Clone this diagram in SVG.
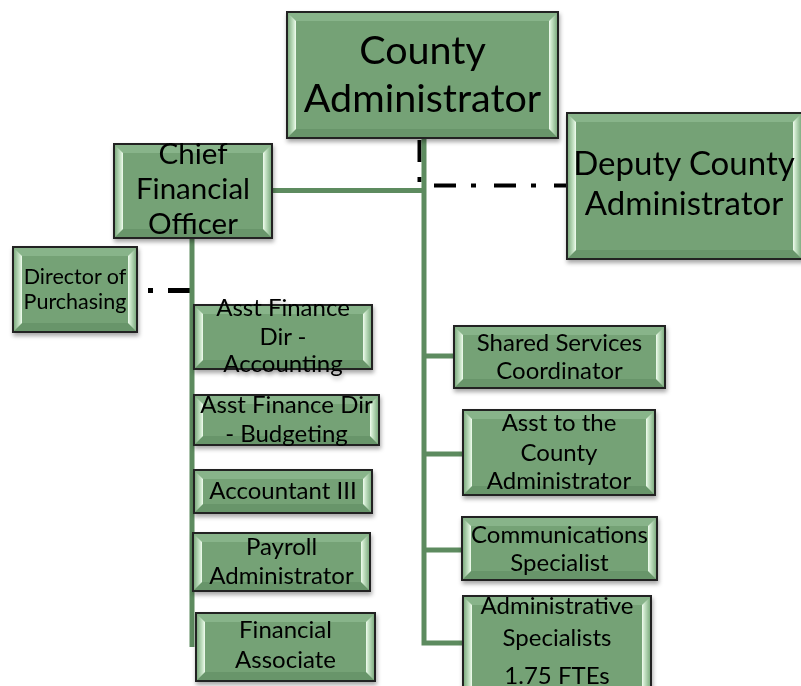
<svg xmlns="http://www.w3.org/2000/svg" width="801" height="686" viewBox="0 0 801 686">
<defs>
<filter id="sh" x="-10%" y="-10%" width="120%" height="130%">
<feDropShadow dx="1" dy="3" stdDeviation="2" flood-color="#000" flood-opacity="0.35"/>
</filter>
<linearGradient id="bl" x1="0" y1="0" x2="1" y2="0">
<stop offset="0" stop-color="#80ae82"/>
<stop offset="0.75" stop-color="#cfe9ce"/>
<stop offset="1" stop-color="#f2fcf1"/>
</linearGradient>
<linearGradient id="br" x1="1" y1="0" x2="0" y2="0">
<stop offset="0" stop-color="#80ae82"/>
<stop offset="0.75" stop-color="#cfe9ce"/>
<stop offset="1" stop-color="#f2fcf1"/>
</linearGradient>
</defs>
<style>
.box{fill:#74a276;stroke:#222;stroke-width:2}
.bt{fill:#88b48a}
.bb{fill:#67956b}
.bl{fill:url(#bl)}
.br{fill:url(#br)}
.t{font-family:Lato,"Liberation Sans",sans-serif;fill:#000;text-anchor:middle}
.s{font-size:24px}
.g{fill:none;stroke:#5d8b5f;stroke-width:5}
.d{fill:none;stroke:#000;stroke-width:5;stroke-dasharray:22 15 5 18}
</style>
<g id="connectors">
<path class="d" d="M419.5,140 V185.5 H567" style="stroke-width:4"/>
<path class="d" d="M190,290.5 H137"/>
<path class="g" d="M424,138 V643 H463 M424,190.5 H272 M424,356 H454 M424,454 H463 M424,550 H462"/>
<path class="g" d="M192,238 V647"/>
</g>
<g id="county-administrator" filter="url(#sh)">
<rect class="box" x="287" y="12" width="271" height="126"/>
<polygon class="bt" points="288,13 557,13 549,21 296,21"/>
<polygon class="bb" points="288,137 557,137 549,129 296,129"/>
<polygon class="bl" points="288,13 296,21 296,129 288,137"/>
<polygon class="br" points="557,13 549,21 549,129 557,137"/>
<text class="t" x="422.5" y="64" font-size="39.5">County</text>
<text class="t" x="422.5" y="112" font-size="39.5">Administrator</text>
</g>
<g id="deputy-county-administrator" filter="url(#sh)">
<rect class="box" x="567" y="113" width="236" height="146"/>
<polygon class="bt" points="568,114 802,114 794,122 576,122"/>
<polygon class="bb" points="568,258 802,258 794,250 576,250"/>
<polygon class="bl" points="568,114 576,122 576,250 568,258"/>
<polygon class="br" points="801,114 793,122 793,250 801,258"/>
<text class="t" x="684" y="175" font-size="33">Deputy County</text>
<text class="t" x="684" y="215" font-size="33">Administrator</text>
</g>
<g id="chief-financial-officer" filter="url(#sh)">
<rect class="box" x="114" y="144" width="158" height="94"/>
<polygon class="bt" points="115,145 271,145 263,153 123,153"/>
<polygon class="bb" points="115,237 271,237 263,229 123,229"/>
<polygon class="bl" points="115,145 123,153 123,229 115,237"/>
<polygon class="br" points="271,145 263,153 263,229 271,237"/>
<text class="t" x="193" y="164" font-size="29.5">Chief</text>
<text class="t" x="193" y="199" font-size="29.5">Financial</text>
<text class="t" x="193" y="234" font-size="29.5">Officer</text>
</g>
<g id="director-of-purchasing" filter="url(#sh)">
<rect class="box" x="13" y="247" width="124" height="85"/>
<polygon class="bt" points="14,248 136,248 128,256 22,256"/>
<polygon class="bb" points="14,331 136,331 128,323 22,323"/>
<polygon class="bl" points="14,248 22,256 22,323 14,331"/>
<polygon class="br" points="136,248 128,256 128,323 136,331"/>
<text class="t" x="75" y="284" font-size="21.5">Director of</text>
<text class="t" x="75" y="309" font-size="21.5">Purchasing</text>
</g>
<g id="asst-finance-dir-accounting" filter="url(#sh)">
<rect class="box" x="194" y="305" width="178" height="64"/>
<polygon class="bt" points="195,306 371,306 363,314 203,314"/>
<polygon class="bb" points="195,368 371,368 363,360 203,360"/>
<polygon class="bl" points="195,306 203,314 203,360 195,368"/>
<polygon class="br" points="371,306 363,314 363,360 371,368"/>
<text class="t s" x="283" y="316">Asst Finance</text>
<text class="t s" x="283" y="345">Dir -</text>
<text class="t s" x="283" y="372">Accounting</text>
</g>
<g id="asst-finance-dir-budgeting" filter="url(#sh)">
<rect class="box" x="194" y="395" width="185" height="50"/>
<polygon class="bt" points="195,396 378,396 370,404 203,404"/>
<polygon class="bb" points="195,444 378,444 370,436 203,436"/>
<polygon class="bl" points="195,396 203,404 203,436 195,444"/>
<polygon class="br" points="378,396 370,404 370,436 378,444"/>
<text class="t s" x="286.5" y="413">Asst Finance Dir</text>
<text class="t s" x="286.5" y="442">- Budgeting</text>
</g>
<g id="accountant-iii" filter="url(#sh)">
<rect class="box" x="194" y="470" width="178" height="43"/>
<polygon class="bt" points="195,471 371,471 363,479 203,479"/>
<polygon class="bb" points="195,512 371,512 363,504 203,504"/>
<polygon class="bl" points="195,471 203,479 203,504 195,512"/>
<polygon class="br" points="371,471 363,479 363,504 371,512"/>
<text class="t s" x="283" y="499">Accountant III</text>
</g>
<g id="payroll-administrator" filter="url(#sh)">
<rect class="box" x="193" y="533" width="177" height="58"/>
<polygon class="bt" points="194,534 369,534 361,542 202,542"/>
<polygon class="bb" points="194,590 369,590 361,582 202,582"/>
<polygon class="bl" points="194,534 202,542 202,582 194,590"/>
<polygon class="br" points="369,534 361,542 361,582 369,590"/>
<text class="t s" x="281.5" y="555">Payroll</text>
<text class="t s" x="281.5" y="584">Administrator</text>
</g>
<g id="financial-associate" filter="url(#sh)">
<rect class="box" x="196" y="613" width="179" height="68"/>
<polygon class="bt" points="197,614 374,614 366,622 205,622"/>
<polygon class="bb" points="197,680 374,680 366,672 205,672"/>
<polygon class="bl" points="197,614 205,622 205,672 197,680"/>
<polygon class="br" points="374,614 366,622 366,672 374,680"/>
<text class="t s" x="285.5" y="638">Financial</text>
<text class="t s" x="285.5" y="668">Associate</text>
</g>
<g id="shared-services-coordinator" filter="url(#sh)">
<rect class="box" x="454" y="326" width="211" height="62"/>
<polygon class="bt" points="455,327 664,327 656,335 463,335"/>
<polygon class="bb" points="455,387 664,387 656,379 463,379"/>
<polygon class="bl" points="455,327 463,335 463,379 455,387"/>
<polygon class="br" points="664,327 656,335 656,379 664,387"/>
<text class="t s" x="559.5" y="351">Shared Services</text>
<text class="t s" x="559.5" y="379">Coordinator</text>
</g>
<g id="asst-to-the-county-administrator" filter="url(#sh)">
<rect class="box" x="463" y="410" width="192" height="85"/>
<polygon class="bt" points="464,411 654,411 646,419 472,419"/>
<polygon class="bb" points="464,494 654,494 646,486 472,486"/>
<polygon class="bl" points="464,411 472,419 472,486 464,494"/>
<polygon class="br" points="654,411 646,419 646,486 654,494"/>
<text class="t s" x="559" y="431">Asst to the</text>
<text class="t s" x="559" y="461">County</text>
<text class="t s" x="559" y="489">Administrator</text>
</g>
<g id="communications-specialist" filter="url(#sh)">
<rect class="box" x="462" y="517" width="195" height="63"/>
<polygon class="bt" points="463,518 656,518 648,526 471,526"/>
<polygon class="bb" points="463,579 656,579 648,571 471,571"/>
<polygon class="bl" points="463,518 471,526 471,571 463,579"/>
<polygon class="br" points="656,518 648,526 648,571 656,579"/>
<text class="t s" x="559.5" y="543">Communications</text>
<text class="t s" x="559.5" y="571">Specialist</text>
</g>
<g id="administrative-specialists" filter="url(#sh)">
<rect class="box" x="463" y="596" width="188" height="100"/>
<polygon class="bt" points="464,597 650,597 642,605 472,605"/>
<polygon class="bl" points="464,597 472,605 472,695 464,695"/>
<polygon class="br" points="650,597 642,605 642,695 650,695"/>
<text class="t s" x="557" y="614">Administrative</text>
<text class="t s" x="557" y="646">Specialists</text>
<text class="t s" x="557" y="684">1.75 FTEs</text>
</g>
</svg>
